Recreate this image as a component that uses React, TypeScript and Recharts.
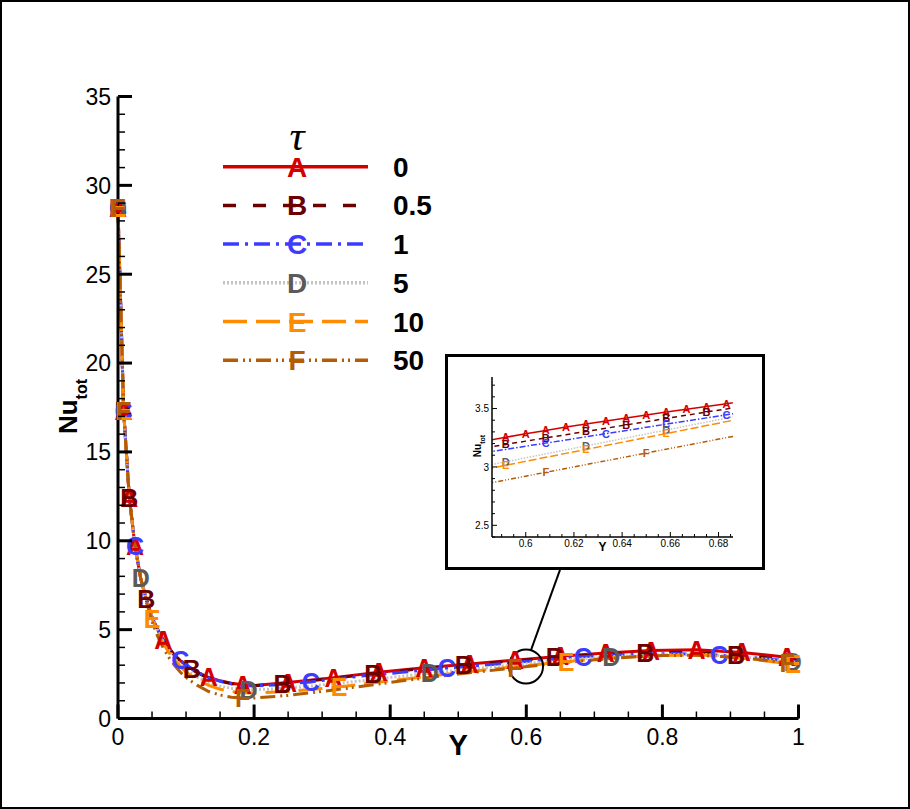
import React from 'react';
import { LineChart, Line, XAxis, YAxis, Legend, ReferenceLine, ReferenceDot } from 'recharts';

const FONT = '"Liberation Sans", Arial, Helvetica, sans-serif';
const SERIF = '"Liberation Serif", "DejaVu Serif", serif';

// ---- series meta ----
const seriesLetters = ['A', 'B', 'C', 'D', 'E', 'F'];
const tauLabels = ['0', '0.5', '1', '5', '10', '50'];
const lineColors = ['#d40000', '#6a0000', '#3c3cff', '#c4c4c4', '#ff8c00', '#b35c05'];
const letterColors = ['#d40000', '#6a0000', '#3c3cff', '#5a5a5a', '#ff8c00', '#b35c05'];
const mainDash = [undefined, '13 17', '16 6 3 6', '2 2', '24 9', '15 5 2 4 2 5'];
const insetDash = [undefined, '5 4', '6 2 1.5 2', '1.5 1.5', '8 3', '5 2 1 2 1 2'];

// ---- main chart data: [Y, Nu_tot] ----
const tau0Main = [
  [0, 28.7], [0.0083, 17.3], [0.0167, 12.4], [0.025, 9.7], [0.0333, 7.9], [0.0417, 6.7], [0.05, 5.7],
  [0.0583, 5.0], [0.0667, 4.4], [0.075, 3.95], [0.0833, 3.55], [0.0917, 3.25], [0.1, 3.0], [0.1083, 2.78],
  [0.1167, 2.6], [0.1333, 2.32], [0.15, 2.12], [0.1667, 1.98], [0.1833, 1.9], [0.2, 1.86], [0.25, 2.02],
  [0.3167, 2.3], [0.3833, 2.6], [0.45, 2.85], [0.5167, 3.07], [0.5833, 3.28], [0.65, 3.5], [0.7167, 3.68],
  [0.7833, 3.82], [0.85, 3.87], [0.9167, 3.72], [0.9833, 3.45], [1.0, 3.4],
];
const tau0Marks = [0, 1, 2, 3, 8, 15, 18, 20, 21, 22, 23, 24, 25, 26, 27, 28, 29, 30, 31];

const tau05Main = [
  [0, 28.7], [0.0083, 17.3], [0.0167, 12.4], [0.025, 9.7], [0.0333, 7.9], [0.0417, 6.7], [0.05, 5.7],
  [0.0583, 5.0], [0.0667, 4.4], [0.075, 3.95], [0.0833, 3.55], [0.0917, 3.25], [0.1, 3.0], [0.1083, 2.76],
  [0.125, 2.42], [0.15, 2.1], [0.1667, 1.96], [0.1833, 1.88], [0.2, 1.85], [0.2417, 1.96], [0.3, 2.2],
  [0.375, 2.52], [0.44, 2.78], [0.5083, 3.0], [0.575, 3.22], [0.6417, 3.44], [0.71, 3.6], [0.775, 3.7],
  [0.84, 3.73], [0.9083, 3.6], [0.95, 3.43], [1.0, 3.26],
];
const tau05Marks = [0, 1, 2, 5, 13, 19, 21, 23, 25, 27, 29];

const tau1Main = [
  [0, 28.7], [0.0083, 17.3], [0.0167, 12.4], [0.025, 9.7], [0.0333, 7.9], [0.0417, 6.7], [0.05, 5.7],
  [0.0583, 5.0], [0.0667, 4.42], [0.075, 3.97], [0.0833, 3.6], [0.0917, 3.3], [0.1, 3.02], [0.1167, 2.6],
  [0.1333, 2.3], [0.15, 2.1], [0.1667, 1.95], [0.1833, 1.86], [0.2, 1.83], [0.2417, 1.92], [0.2833, 2.06],
  [0.35, 2.36], [0.4167, 2.6], [0.4833, 2.84], [0.55, 3.04], [0.6167, 3.27], [0.6833, 3.48], [0.75, 3.61],
  [0.8167, 3.66], [0.8833, 3.57], [0.95, 3.37], [1.0, 3.2],
];
const tau1Marks = [0, 1, 3, 11, 20, 23, 26, 29];

const tau5Main = [
  [0, 28.7], [0.0083, 17.3], [0.0167, 12.4], [0.025, 9.7], [0.0333, 7.9], [0.0417, 6.7], [0.05, 5.7],
  [0.0583, 4.95], [0.0667, 4.3], [0.075, 3.8], [0.0833, 3.38], [0.0917, 3.02], [0.1, 2.74], [0.1167, 2.32],
  [0.1333, 2.02], [0.15, 1.82], [0.1667, 1.7], [0.1917, 1.62], [0.225, 1.65], [0.2667, 1.77], [0.325, 1.98],
  [0.3917, 2.27], [0.4583, 2.55], [0.525, 2.8], [0.5917, 3.06], [0.6583, 3.3], [0.725, 3.48], [0.7917, 3.58],
  [0.8583, 3.6], [0.925, 3.44], [0.9917, 3.18], [1.0, 3.16],
];
const tau5Marks = [0, 4, 17, 22, 26, 30];

const tau10Main = [
  [0, 28.7], [0.0083, 17.3], [0.0167, 12.4], [0.025, 9.7], [0.0333, 7.9], [0.0417, 6.6], [0.05, 5.6],
  [0.0583, 4.85], [0.0667, 4.2], [0.075, 3.7], [0.0833, 3.28], [0.0917, 2.92], [0.1, 2.62], [0.1167, 2.18],
  [0.1333, 1.86], [0.15, 1.65], [0.1667, 1.52], [0.1833, 1.45], [0.2, 1.43], [0.25, 1.52], [0.325, 1.78],
  [0.4, 2.12], [0.475, 2.46], [0.55, 2.78], [0.6583, 3.2], [0.725, 3.42], [0.8, 3.55], [0.8583, 3.57],
  [0.925, 3.36], [0.9917, 3.05], [1.0, 3.03],
];
const tau10Marks = [0, 1, 6, 20, 24, 29];

const tau50Main = [
  [0, 28.7], [0.0083, 17.3], [0.0167, 12.4], [0.025, 9.7], [0.0333, 7.9], [0.0417, 6.55], [0.05, 5.45],
  [0.0583, 4.62], [0.0667, 3.95], [0.075, 3.42], [0.0833, 2.98], [0.0917, 2.6], [0.1, 2.3], [0.1167, 1.86],
  [0.1333, 1.52], [0.15, 1.32], [0.1667, 1.2], [0.1833, 1.15], [0.2, 1.15], [0.25, 1.3], [0.3, 1.52],
  [0.35, 1.77], [0.4, 2.03], [0.45, 2.28], [0.5, 2.5], [0.5833, 2.85], [0.65, 3.12], [0.7, 3.3],
  [0.75, 3.45], [0.8, 3.54], [0.85, 3.56], [0.9, 3.46], [0.95, 3.28], [0.9833, 3.12], [1.0, 3.08],
];
const tau50Marks = [0, 1, 17, 25, 33];

const mainXTicks = [0, 0.05, 0.1, 0.15, 0.2, 0.25, 0.3, 0.35, 0.4, 0.45, 0.5, 0.55, 0.6, 0.65, 0.7, 0.75, 0.8, 0.85, 0.9, 0.95, 1];
const mainYTicks = [0, 1, 2, 3, 4, 5, 6, 7, 8, 9, 10, 11, 12, 13, 14, 15, 16, 17, 18, 19, 20, 21, 22, 23, 24, 25, 26, 27, 28, 29, 30, 31, 32, 33, 34, 35];

// ---- inset data ----
const insetX = [0.5833, 0.5917, 0.6, 0.6083, 0.6167, 0.625, 0.6333, 0.6417, 0.65, 0.6583, 0.6667, 0.675, 0.6833, 0.6917];
const insetTau0 = [3.222, 3.254, 3.284, 3.312, 3.341, 3.368, 3.394, 3.419, 3.444, 3.47, 3.494, 3.517, 3.541, 3.566];
const insetTau05 = [3.165, 3.193, 3.221, 3.249, 3.276, 3.304, 3.331, 3.36, 3.387, 3.415, 3.443, 3.47, 3.496, 3.524];
const insetTau1 = [3.124, 3.15, 3.178, 3.204, 3.231, 3.258, 3.285, 3.312, 3.339, 3.366, 3.393, 3.42, 3.447, 3.474];
const insetTau5 = [3.01, 3.044, 3.078, 3.112, 3.146, 3.18, 3.214, 3.248, 3.282, 3.316, 3.35, 3.384, 3.418, 3.452];
const insetTau10 = [2.98, 3.014, 3.048, 3.082, 3.116, 3.15, 3.184, 3.218, 3.252, 3.286, 3.32, 3.354, 3.388, 3.422];
const insetTau50 = [2.855, 2.888, 2.921, 2.954, 2.987, 3.02, 3.053, 3.086, 3.119, 3.152, 3.185, 3.218, 3.251, 3.284];
const insetMarks = [
  [1, 2, 3, 4, 5, 6, 7, 8, 9, 10, 11, 12],
  [1, 3, 5, 7, 9, 11],
  [3, 6, 9, 12],
  [1, 5, 9],
  [1, 5, 9],
  [3, 8],
];
const insetXTicks = [0.59, 0.595, 0.6, 0.605, 0.61, 0.615, 0.62, 0.625, 0.63, 0.635, 0.64, 0.645, 0.65, 0.655, 0.66, 0.665, 0.67, 0.675, 0.68, 0.685];
const insetYTicks = [2.4, 2.5, 2.6, 2.7, 2.8, 2.9, 3.0, 3.1, 3.2, 3.3, 3.4, 3.5, 3.6, 3.7];

// ---- annotation (zoom circle + connector), data coordinates of main chart ----
const zoomCircle = { x: 0.5996, y: 2.93, r: 17 };
const connector = [{ x: 0.6495, y: 8.36 }, { x: 0.6069, y: 3.85 }];

// ---- build rows ----
const mainPts = [tau0Main, tau05Main, tau1Main, tau5Main, tau10Main, tau50Main];
const mainMarks = [tau0Marks, tau05Marks, tau1Marks, tau5Marks, tau10Marks, tau50Marks];
const mainRows = mainPts.map((pts) => pts.map(([x, y]) => ({ x, y })));
const insetVals = [insetTau0, insetTau05, insetTau1, insetTau5, insetTau10, insetTau50];
const insetRows = insetVals.map((vals) => insetX.map((x, i) => ({ x, y: vals[i] })));

function letterDot(letter: string, color: string, size: number, marks: number[]) {
  return (props: any) => {
    const { cx, cy, index } = props;
    if (cx == null || cy == null || !marks.includes(index)) {
      return <g key={`n-${letter}-${index}`} />;
    }
    return (
      <text
        key={`m-${letter}-${index}`}
        x={cx}
        y={cy + size * 0.36}
        textAnchor="middle"
        fontSize={size}
        fontWeight={700}
        fontFamily={FONT}
        fill={color}
      >
        {letter}
      </text>
    );
  };
}

const fmt1 = (v: number) => String(Math.round(v * 10) / 10);
const fmt2 = (v: number) => String(Math.round(v * 100) / 100);

const MainXTick = (props: any) => {
  const { x, y, payload } = props;
  const v = payload.value;
  const major = Math.round(v * 100) % 20 === 0;
  return (
    <g>
      <line x1={x} x2={x} y1={y} y2={y - (major ? 14 : 7)} stroke="#000" strokeWidth={major ? 3 : 1.5} />
      {major && (
        <text x={x} y={y + 26} textAnchor="middle" fontSize={23} fontFamily={FONT} fill="#000">
          {fmt1(v)}
        </text>
      )}
    </g>
  );
};

const MainYTick = (props: any) => {
  const { x, y, payload } = props;
  const v = payload.value;
  const major = Math.round(v) % 5 === 0;
  return (
    <g>
      <line x1={x} x2={x + (major ? 14 : 7)} y1={y} y2={y} stroke="#000" strokeWidth={major ? 3 : 1.5} />
      {major && (
        <text x={x - 7} y={y + 8.3} textAnchor="end" fontSize={23} fontFamily={FONT} fill="#000">
          {fmt1(v)}
        </text>
      )}
    </g>
  );
};

const InsetXTick = (props: any) => {
  const { x, y, payload } = props;
  const v = payload.value;
  const major = Math.round(v * 1000) % 20 === 0;
  return (
    <g>
      <line x1={x} x2={x} y1={y} y2={y - (major ? 5 : 3)} stroke="#000" strokeWidth={1} />
      {major && (
        <text x={x} y={y + 10} textAnchor="middle" fontSize={10} fontFamily={FONT} fill="#000">
          {fmt2(v)}
        </text>
      )}
    </g>
  );
};

const InsetYTick = (props: any) => {
  const { x, y, payload } = props;
  const v = payload.value;
  const major = Math.round(v * 10) % 5 === 0;
  return (
    <g>
      <line x1={x} x2={x + (major ? 5 : 3)} y1={y} y2={y} stroke="#000" strokeWidth={1} />
      {major && (
        <text x={x - 3} y={y + 3.6} textAnchor="end" fontSize={10} fontFamily={FONT} fill="#000">
          {fmt1(v)}
        </text>
      )}
    </g>
  );
};

const MainXTitle = (props: any) => {
  const vb = props.viewBox || {};
  return (
    <text x={vb.x + vb.width / 2} y={vb.y + 36.5} textAnchor="middle" fontSize={29} fontWeight={700} fontFamily={FONT} fill="#000">
      Y
    </text>
  );
};

const MainYTitle = (props: any) => {
  const vb = props.viewBox || {};
  const cx = vb.x + 19;
  const cy = vb.y + vb.height / 2 - 1;
  return (
    <text transform={`rotate(-90 ${cx} ${cy})`} x={cx} y={cy} textAnchor="middle" fontFamily={FONT} fontWeight={700} fill="#000">
      <tspan fontSize={26}>Nu</tspan>
      <tspan fontSize={16} dy={10}>tot</tspan>
    </text>
  );
};

const InsetXTitle = (props: any) => {
  const vb = props.viewBox || {};
  return (
    <text x={vb.x + vb.width / 2 - 10} y={vb.y + 14} textAnchor="middle" fontSize={12} fontWeight={700} fontFamily={FONT} fill="#000">
      Y
    </text>
  );
};

const InsetYTitle = (props: any) => {
  const vb = props.viewBox || {};
  const cx = vb.x + 19;
  const cy = vb.y + vb.height / 2 - 11;
  return (
    <text transform={`rotate(-90 ${cx} ${cy})`} x={cx} y={cy} textAnchor="middle" fontFamily={FONT} fontWeight={700} fill="#000">
      <tspan fontSize={10}>Nu</tspan>
      <tspan fontSize={7} dy={3.5}>tot</tspan>
    </text>
  );
};

const renderLegend = () => (
  <svg width={250} height={250} style={{ overflow: 'visible', display: 'block' }}>
    <text x={82} y={25} textAnchor="middle" fontSize={42} fontStyle="italic" fontFamily={SERIF} fill="#000">
      τ
    </text>
    {seriesLetters.map((letter, i) => {
      const y = 41.7 + i * 38.7;
      return (
        <g key={letter}>
          <line x1={8} x2={153} y1={y} y2={y} stroke={lineColors[i]} strokeWidth={3.5} strokeDasharray={mainDash[i]} />
          <text x={82} y={y + 28 * 0.36} textAnchor="middle" fontSize={28} fontWeight={700} fontFamily={FONT} fill={letterColors[i]}>
            {letter}
          </text>
          <text x={178} y={y + 10} fontSize={28} fontWeight={700} fontFamily={FONT} fill="#000">
            {tauLabels[i]}
          </text>
        </g>
      );
    })}
  </svg>
);

export default function App() {
  return (
    <div style={{ position: 'absolute', left: 0, top: 0, width: 910, height: 809, background: '#fff', overflow: 'hidden' }}>
      <LineChart width={910} height={809} margin={{ top: 96.5, right: 111.5, bottom: 60.5, left: 58 }}>
        <XAxis
          xAxisId="main"
          dataKey="x"
          type="number"
          domain={[0, 1]}
          ticks={mainXTicks}
          interval={0}
          tick={<MainXTick />}
          tickLine={false}
          tickSize={0}
          tickMargin={0}
          axisLine={{ stroke: '#000', strokeWidth: 3 }}
          height={30}
          label={(p: any) => <MainXTitle {...p} />}
        />
        <XAxis
          xAxisId="top"
          orientation="top"
          type="number"
          domain={[0, 1]}
          height={0}
          tick={false}
          tickLine={false}
          axisLine={{ stroke: '#000', strokeWidth: 3 }}
        />
        <YAxis
          yAxisId="main"
          type="number"
          domain={[0, 35]}
          ticks={mainYTicks}
          interval={0}
          tick={<MainYTick />}
          tickLine={false}
          tickSize={0}
          tickMargin={0}
          axisLine={{ stroke: '#000', strokeWidth: 3 }}
          width={60}
          label={(p: any) => <MainYTitle {...p} />}
        />
        <YAxis
          yAxisId="right"
          orientation="right"
          type="number"
          domain={[0, 35]}
          width={0}
          tick={false}
          tickLine={false}
          axisLine={{ stroke: '#000', strokeWidth: 3 }}
        />
        {mainRows.map((rows, i) => (
          <Line
            key={seriesLetters[i]}
            xAxisId="main"
            yAxisId="main"
            data={rows}
            dataKey="y"
            type="linear"
            stroke={lineColors[i]}
            strokeWidth={3}
            strokeDasharray={mainDash[i]}
            dot={letterDot(seriesLetters[i], letterColors[i], 25, mainMarks[i])}
            activeDot={false}
            isAnimationActive={false}
          />
        ))}
        <ReferenceLine
          xAxisId="main"
          yAxisId="main"
          segment={connector}
          stroke="#000"
          strokeWidth={2}
        />
        <ReferenceDot
          xAxisId="main"
          yAxisId="main"
          x={zoomCircle.x}
          y={zoomCircle.y}
          r={zoomCircle.r}
          fill="none"
          stroke="#000"
          strokeWidth={2}
        />
        <Legend
          layout="vertical"
          align="center"
          verticalAlign="middle"
          content={renderLegend}
          wrapperStyle={{ left: 215, top: 125, width: 250, height: 250 }}
        />
      </LineChart>

      <div style={{ position: 'absolute', left: 445, top: 354, width: 320, height: 216, background: '#fff' }}>
        <LineChart width={320} height={216} margin={{ top: 23, right: 32, bottom: 13, left: 17 }}>
          <XAxis
            xAxisId="ix"
            dataKey="x"
            type="number"
            domain={[0.586, 0.686]}
            allowDataOverflow
            ticks={insetXTicks}
            interval={0}
            tick={<InsetXTick />}
            tickLine={false}
            tickSize={0}
            tickMargin={0}
            axisLine={{ stroke: '#000', strokeWidth: 1.5 }}
            height={20}
            label={(p: any) => <InsetXTitle {...p} />}
          />
          <YAxis
            yAxisId="iy"
            type="number"
            domain={[2.4, 3.77]}
            allowDataOverflow
            ticks={insetYTicks}
            interval={0}
            tick={<InsetYTick />}
            tickLine={false}
            tickSize={0}
            tickMargin={0}
            axisLine={{ stroke: '#000', strokeWidth: 1.5 }}
            width={30}
            label={(p: any) => <InsetYTitle {...p} />}
          />
          <YAxis
            yAxisId="ir"
            orientation="right"
            type="number"
            domain={[2.4, 3.77]}
            width={0}
            tick={false}
            tickLine={false}
            axisLine={{ stroke: '#000', strokeWidth: 1.5 }}
          />
          {insetRows.map((rows, i) => (
            <Line
              key={`i-${seriesLetters[i]}`}
              xAxisId="ix"
              yAxisId="iy"
              data={rows}
              dataKey="y"
              type="linear"
              stroke={lineColors[i]}
              strokeWidth={1.5}
              strokeDasharray={insetDash[i]}
              dot={letterDot(seriesLetters[i], letterColors[i], 11, insetMarks[i])}
              activeDot={false}
              isAnimationActive={false}
            />
          ))}
        </LineChart>
        <div
          style={{
            position: 'absolute',
            left: 0,
            top: 0,
            width: 320,
            height: 216,
            border: '3px solid #000',
            boxSizing: 'border-box',
            pointerEvents: 'none',
          }}
        />
      </div>

      <div
        style={{
          position: 'absolute',
          left: 0,
          top: 0,
          width: 910,
          height: 809,
          border: '2px solid #000',
          boxSizing: 'border-box',
          pointerEvents: 'none',
        }}
      />
    </div>
  );
}
